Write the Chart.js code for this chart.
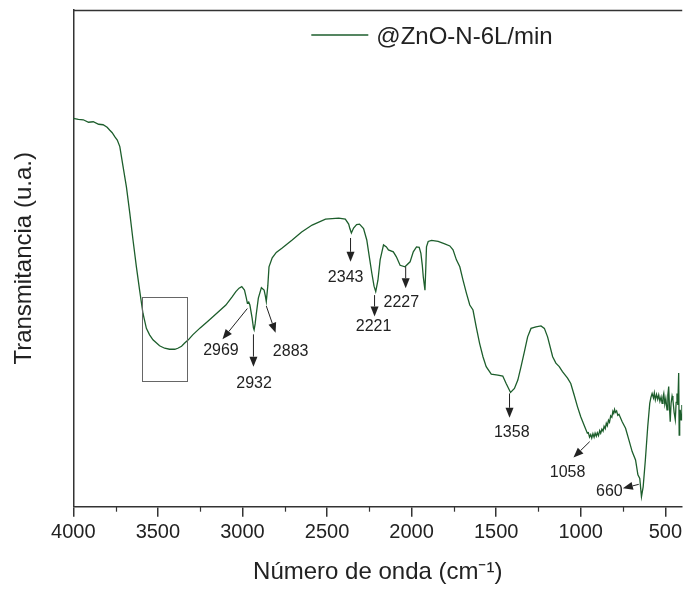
<!DOCTYPE html>
<html>
<head>
<meta charset="utf-8">
<script src="https://cdn.jsdelivr.net/npm/chart.js@4/dist/chart.umd.min.js"></script>
<style>
html,body{margin:0;padding:0;background:#fff;}
#wrap{width:686px;height:591px;position:relative;}
</style>
</head>
<body>
<div id="wrap"><canvas id="c" width="686" height="591"></canvas></div>
<script>
// ---- data ----
const seriesLabel = '@ZnO-N-6L/min';
const wavenumbers = [4000,3970,3941,3910,3882,3850,3824,3800,3784,3770,3755,3740,3725,3706,3686,3666,3647,3627,3608,3588,3568,3549,3529,3490,3460,3431,3400,3382,3360,3343,3320,3294,3250,3196,3150,3098,3060,3039,3020,3004,2988,2977,2971,2963,2956,2943,2935,2931,2925,2919,2906,2888,2872,2865,2859,2850,2843,2824,2800,2765,2706,2650,2588,2509,2431,2392,2372,2365,2356,2343,2325,2308,2284,2265,2249,2235,2222,2212,2199,2186,2166,2149,2137,2108,2090,2068,2039,2009,1990,1971,1955,1945,1937,1931,1921,1916,1912,1902,1882,1843,1804,1774,1755,1735,1715,1696,1676,1656,1637,1618,1598,1578,1559,1529,1490,1461,1441,1415,1392,1372,1353,1333,1314,1294,1265,1235,1215,1196,1166,1147,1127,1108,1078,1059,1039,1019,1000,980,961,955,948,941,935,928,921,915,908,902,895,888,882,875,868,862,855,849,843,836,830,823,816,810,805,800,795,788,781,774,755,735,715,696,676,662,651,641,631,618,604,592,585,578,570,565,559,552,545,539,532,525,519,514,509,503,497,490,485,480,476,471,466,460,455,448,441,436,431,426,421,418,415,412,407,402];
const transmittance = [78.2,78.0,77.9,77.4,77.5,77.0,76.9,76.4,75.8,75.3,74.5,73.8,72.5,68.5,64.4,59.1,53.7,48.3,43.6,38.9,35.9,34.6,33.6,32.4,31.9,31.7,31.7,31.9,32.3,32.9,33.6,34.6,36.0,37.6,39.0,40.6,42.3,43.3,44.0,44.3,43.6,42.0,41.0,41.2,40.6,38.0,36.0,35.6,36.8,38.6,42.0,44.1,43.6,42.5,41.3,44.5,48.3,50.1,51.2,52.1,53.7,55.3,56.7,57.9,58.1,57.9,56.9,56.0,55.1,56.1,56.8,56.9,56.0,53.7,50.1,47.0,44.4,43.3,45.6,49.7,52.7,52.3,51.7,51.3,50.3,48.6,48.3,49.3,51.3,52.3,52.2,51.0,48.7,46.3,43.6,48.1,52.3,53.4,53.6,53.4,52.9,52.5,51.7,49.7,48.3,45.6,43.0,40.6,39.6,36.2,32.9,30.2,28.2,26.7,26.5,26.3,24.8,23.0,23.8,25.5,28.2,31.2,34.2,35.9,36.2,36.4,35.9,34.2,30.2,28.9,28.2,27.2,25.9,24.8,22.5,20.1,18.1,16.4,14.8,14.9,14.0,14.5,13.8,14.7,14.0,14.8,14.2,14.9,14.3,15.3,14.8,15.6,15.2,16.2,15.7,16.8,16.3,17.4,17.0,18.3,18.0,19.2,18.8,19.6,19.0,19.3,18.4,18.6,17.1,15.8,13.4,11.1,9.4,6.4,5.7,2.0,4.0,9.4,16.1,20.8,22.0,22.8,21.9,22.9,21.5,22.6,21.6,22.5,21.2,22.1,20.8,22.0,22.8,20.6,21.8,19.5,22.5,24.2,20.5,17.1,20.8,22.3,21.5,19.0,17.5,21.0,22.8,20.5,26.9,14.4,18.0,19.5,17.5,20.5];
const majorTicks = [4000,3500,3000,2500,2000,1500,1000,500];
const minorTicks = [3750,3250,2750,2250,1750,1250,750];
// peak annotations (data coordinates)
const peakLabels = ['2969','2932','2883','2343','2221','2227','1358','1058','660'];
const labelX  = [3127,2931,2715,2390,2225,2061,1408,1078,831];
const labelY  = [31.5,24.8,31.2,46.2,36.2,41.0,14.9,6.8,3.0];
const arrowFromX = [2971,2935,2859,2361,2219,2035,1421,947,657];
const arrowFromY = [39.9,34.7,40.4,54.1,42.6,48.3,22.8,13.1,4.5];
const arrowToX   = [3118,2935,2804,2361,2219,2035,1421,1043,751];
const arrowToY   = [33.7,28.2,35.0,49.3,38.3,44.0,17.9,9.9,3.7];
const boxX = [3592,3324];
const boxY = [25.2,42.2];

const points = wavenumbers.map((w,i)=>({x:w,y:transmittance[i]}));
const lineColor = '#1d5e2c';
const axisColor = '#333333';

const extras = {
  id:'extras',
  afterDatasetsDraw(chart){
    const {ctx, chartArea:ca, scales:{x,y}} = chart;
    ctx.save();
    // top border
    ctx.strokeStyle = axisColor; ctx.lineWidth = 1.5;
    ctx.beginPath(); ctx.moveTo(ca.left, ca.top+0.5); ctx.lineTo(ca.right, ca.top+0.5); ctx.stroke();
    // minor ticks
    ctx.lineWidth = 1.2;
    minorTicks.forEach(t=>{
      const px = Math.round(x.getPixelForValue(t))+0.5;
      ctx.beginPath(); ctx.moveTo(px, ca.bottom); ctx.lineTo(px, ca.bottom+5); ctx.stroke();
    });
    // box
    ctx.strokeStyle = '#666'; ctx.lineWidth = 1;
    const bx0 = x.getPixelForValue(boxX[0]), bx1 = x.getPixelForValue(boxX[1]);
    const by0 = y.getPixelForValue(boxY[0]), by1 = y.getPixelForValue(boxY[1]);
    ctx.strokeRect(Math.round(bx0)+0.5, Math.round(by1)+0.5, Math.round(bx1-bx0), Math.round(by0-by1));
    // arrows
    ctx.strokeStyle = '#222'; ctx.fillStyle = '#222'; ctx.lineWidth = 1;
    for(let i=0;i<peakLabels.length;i++){
      const x0 = x.getPixelForValue(arrowFromX[i]), y0 = y.getPixelForValue(arrowFromY[i]);
      const x1 = x.getPixelForValue(arrowToX[i]), y1 = y.getPixelForValue(arrowToY[i]);
      const ang = Math.atan2(y1-y0, x1-x0);
      const L = 10, H = 4;
      const bxp = x1 - L*Math.cos(ang), byp = y1 - L*Math.sin(ang);
      ctx.beginPath(); ctx.moveTo(x0,y0); ctx.lineTo(bxp,byp); ctx.stroke();
      ctx.beginPath();
      ctx.moveTo(x1,y1);
      ctx.lineTo(bxp - H*Math.sin(ang), byp + H*Math.cos(ang));
      ctx.lineTo(bxp + H*Math.sin(ang), byp - H*Math.cos(ang));
      ctx.closePath(); ctx.fill();
    }
    // labels
    ctx.fillStyle = '#222';
    ctx.font = '16px "Liberation Sans", Arial, sans-serif';
    ctx.textAlign = 'center'; ctx.textBaseline = 'middle';
    for(let i=0;i<peakLabels.length;i++){
      ctx.fillText(peakLabels[i], x.getPixelForValue(labelX[i]), y.getPixelForValue(labelY[i]));
    }
    // legend
    const ds = chart.data.datasets[0];
    const lx = ca.left + 238, ly = ca.top + 25;
    ctx.strokeStyle = ds.borderColor; ctx.lineWidth = 1.3;
    ctx.beginPath(); ctx.moveTo(lx, ly); ctx.lineTo(lx+57, ly); ctx.stroke();
    ctx.fillStyle = '#222';
    ctx.font = '24px "Liberation Sans", Arial, sans-serif';
    ctx.textAlign = 'left'; ctx.textBaseline = 'middle';
    ctx.fillText(ds.label, lx+65, ly+2);
    ctx.restore();
  }
};

new Chart(document.getElementById('c'), {
  type:'line',
  data:{datasets:[{label:seriesLabel, data:points, borderColor:lineColor, borderWidth:1.3, pointRadius:0, fill:false, tension:0}]},
  options:{
    responsive:false, animation:false, devicePixelRatio:1,
    layout:{padding:{top:10,left:0,right:0,bottom:0}},
    plugins:{legend:{display:false}, tooltip:{enabled:false}},
    scales:{
      x:{type:'linear', reverse:true, min:400, max:4000,
        afterBuildTicks(s){ s.ticks = majorTicks.map(v=>({value:v})); },
        afterFit(s){ s.height = 84.3; },
        grid:{display:true, drawOnChartArea:false, drawTicks:true, tickLength:10, color:axisColor, lineWidth:1.5},
        border:{display:true, color:axisColor, width:1.5},
        ticks:{color:'#222', font:{family:'"Liberation Sans", Arial, sans-serif', size:20}, padding:4, maxRotation:0, autoSkip:false, callback:(v)=>String(v)},
        title:{display:true, text:'Número de onda (cm⁻¹)', color:'#222', font:{family:'"Liberation Sans", Arial, sans-serif', size:24}, padding:{top:0,bottom:4}}
      },
      y:{type:'linear', min:0, max:100,
        afterFit(s){ s.width = 73.3; },
        grid:{display:false},
        border:{display:true, color:axisColor, width:1.5},
        ticks:{display:false},
        title:{display:true, text:'Transmitancia (u.a.)', color:'#222', font:{family:'"Liberation Sans", Arial, sans-serif', size:24}, padding:{top:10,bottom:0}}
      }
    }
  },
  plugins:[extras]
});
</script>
</body>
</html>
